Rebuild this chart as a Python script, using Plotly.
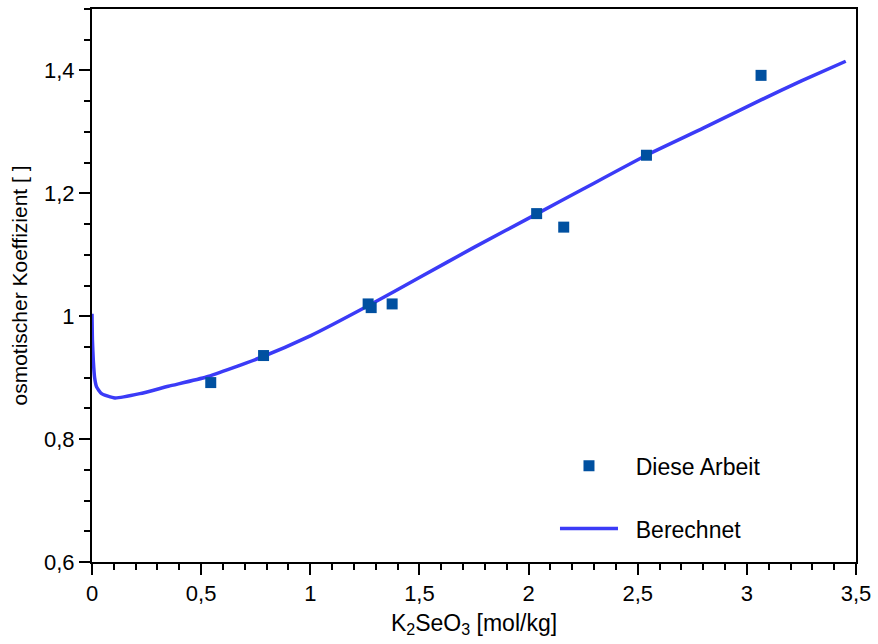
import plotly.graph_objects as go

# Measured data ("Diese Arbeit")
meas_x = [0.544, 0.786, 1.265, 1.279, 1.375, 2.037, 2.161, 2.540, 3.065]
meas_y = [0.892, 0.936, 1.020, 1.014, 1.020, 1.167, 1.145, 1.262, 1.392]

# Calculated curve ("Berechnet")
calc_x = [0.0, 0.002, 0.006, 0.012, 0.021, 0.044, 0.105, 0.219, 0.35, 0.524,
          0.767, 1.0, 1.265, 1.5, 1.75, 2.04, 2.25, 2.54, 2.8, 3.065, 3.25, 3.453]
calc_y = [1.004, 0.96, 0.928, 0.90, 0.885, 0.874, 0.867, 0.874, 0.886, 0.901,
          0.932, 0.968, 1.017, 1.063, 1.112, 1.167, 1.207, 1.262, 1.306, 1.352, 1.383, 1.415]

x_tickvals = [0, 0.5, 1, 1.5, 2, 2.5, 3, 3.5]
x_ticktext = ["0", "0,5", "1", "1,5", "2", "2,5", "3", "3,5"]
y_tickvals = [0.6, 0.8, 1.0, 1.2, 1.4]
y_ticktext = ["0,6", "0,8", "1", "1,2", "1,4"]

FONT = "Liberation Sans, Arial, sans-serif"
PAD = "\u00a0\u00a0"

fig = go.Figure()
fig.add_trace(go.Scatter(
    x=calc_x, y=calc_y, mode="lines", name=PAD + "Berechnet",
    line=dict(color="#3b3bf7", width=3.5, shape="spline", smoothing=0.5),
    legendgroup="b", legendrank=2,
))
fig.add_trace(go.Scatter(
    x=meas_x, y=meas_y, mode="markers", name=PAD + "Diese Arbeit",
    marker=dict(symbol="square", size=11, color="#0050a0"),
    legendgroup="a", legendrank=1,
))

axis_common = dict(
    showgrid=False, zeroline=False, showline=True, linecolor="black", linewidth=2,
    mirror=True, ticks="outside", tickcolor="black", tickwidth=1.5, ticklen=11,
    tickfont=dict(size=22, color="black", family=FONT),
)

fig.update_layout(
    width=878, height=644,
    margin=dict(l=92, r=20, t=7, b=82),
    paper_bgcolor="white", plot_bgcolor="white",
    font=dict(family=FONT, size=22, color="black"),
    showlegend=True,
    legend=dict(
        x=0.606, y=0.213, xanchor="left", yanchor="top",
        bgcolor="rgba(0,0,0,0)", font=dict(size=23, family=FONT),
        itemwidth=58, tracegroupgap=30,
    ),
    xaxis=dict(
        range=[0, 3.5], tickmode="array", tickvals=x_tickvals, ticktext=x_ticktext,
        minor=dict(dtick=0.1, ticks="outside", ticklen=6, tickcolor="black", tickwidth=1.5),
        title=dict(text="K<sub>2</sub>SeO<sub>3</sub> [mol/kg]", font=dict(size=23), standoff=9),
        **axis_common,
    ),
    yaxis=dict(
        range=[0.6, 1.5], tickmode="array", tickvals=y_tickvals, ticktext=y_ticktext,
        minor=dict(dtick=0.05, tick0=0.6, ticks="outside", ticklen=6, tickcolor="black", tickwidth=1.5),
        title=dict(text="osmotischer Koeffizient [ ]", font=dict(size=21), standoff=11),
        **axis_common,
    ),
)

fig.write_html("out.html", config={"displayModeBar": False},
               post_script="document.body.style.margin='0px';")
